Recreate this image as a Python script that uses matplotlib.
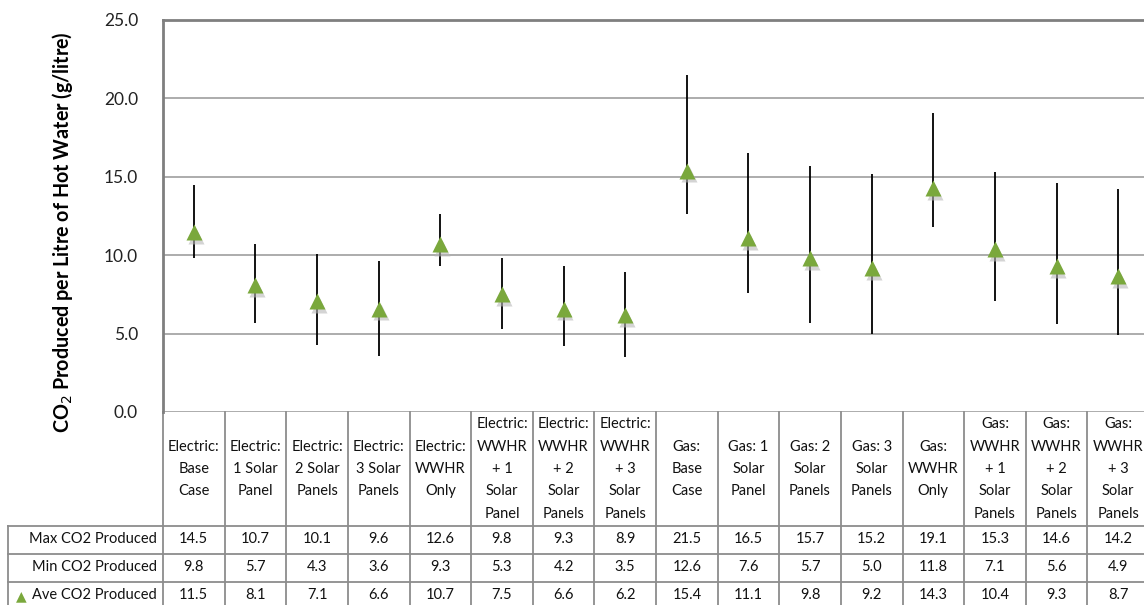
import numpy as np
import matplotlib
matplotlib.use('Agg')
from matplotlib import pyplot as plt
import matplotlib.transforms as mtransforms

plt.rcParams['font.family'] = ['Lato', 'DejaVu Sans']

categories = ['Electric:\nBase\nCase', 'Electric:\n1 Solar\nPanel', 'Electric:\n2 Solar\nPanels',
              'Electric:\n3 Solar\nPanels', 'Electric:\nWWHR\nOnly', 'Electric:\nWWHR\n+ 1\nSolar\nPanel',
              'Electric:\nWWHR\n+ 2\nSolar\nPanels', 'Electric:\nWWHR\n+ 3\nSolar\nPanels',
              'Gas:\nBase\nCase', 'Gas: 1\nSolar\nPanel', 'Gas: 2\nSolar\nPanels', 'Gas: 3\nSolar\nPanels',
              'Gas:\nWWHR\nOnly', 'Gas:\nWWHR\n+ 1\nSolar\nPanels', 'Gas:\nWWHR\n+ 2\nSolar\nPanels',
              'Gas:\nWWHR\n+ 3\nSolar\nPanels']
max_co2 = [14.5, 10.7, 10.1, 9.6, 12.6, 9.8, 9.3, 8.9, 21.5, 16.5, 15.7, 15.2, 19.1, 15.3, 14.6, 14.2]
min_co2 = [9.8, 5.7, 4.3, 3.6, 9.3, 5.3, 4.2, 3.5, 12.6, 7.6, 5.7, 5.0, 11.8, 7.1, 5.6, 4.9]
ave_co2 = [11.5, 8.1, 7.1, 6.6, 10.7, 7.5, 6.6, 6.2, 15.4, 11.1, 9.8, 9.2, 14.3, 10.4, 9.3, 8.7]
row_labels = ['Max CO2 Produced', 'Min CO2 Produced', 'Ave CO2 Produced']
yticks = [0, 5, 10, 15, 20, 25]

W, H = 1144, 605
fig = plt.figure(figsize=(W / 100, H / 100), dpi=100)

def fy(py):
    return 1 - py / H

def fx(px):
    return px / W

ax_left, ax_right, ax_top, ax_bot = 163, 1149, 20, 412
ax = fig.add_axes([fx(ax_left), fy(ax_bot), fx(ax_right - ax_left), (ax_bot - ax_top) / H])

x = np.arange(len(categories))
green = '#7aa83c'
grid_c = '#a6a6a6'
line_c = '#8c8c8c'

ax.vlines(x, min_co2, max_co2, color='black', lw=1.3, zorder=3)
ax.plot(x + 0.03, np.array(ave_co2) - 0.25, '^', color='#b8b8b8', ms=12, mec='none', alpha=0.6, zorder=3)
ax.plot(x, ave_co2, '^', color=green, ms=12, mec='none', zorder=4)

ax.set_xlim(-0.5, len(categories) - 0.5)
ax.set_ylim(0, 25)
ax.set_yticks(yticks)
ax.set_yticklabels(['%.1f' % v for v in yticks], fontsize=12.5, color='#222222')
ax.set_xticks([])
ax.tick_params(axis='y', length=0, pad=18)
ax.yaxis.grid(True, color=grid_c, lw=1.3)
ax.set_axisbelow(True)
for s in ['right', 'bottom']:
    ax.spines[s].set_visible(False)
ax.spines['left'].set_color('#7f7f7f')
ax.spines['left'].set_linewidth(2)
ax.spines['top'].set_color('#7f7f7f')
ax.spines['top'].set_linewidth(2)

fig.text(fx(63), fy(232), 'CO$_2$ Produced per Litre of Hot Water (g/litre)', rotation=90,
         ha='center', va='center', fontsize=14.2, fontweight='bold')

# data table below the plot
trans = mtransforms.blended_transform_factory(ax.transData, fig.transFigure)
head_bot = 526
row_edges = [526, 554, 582, 610]
edges = np.arange(len(categories) + 1) - 0.5
for e in edges:
    ax.add_line(plt.Line2D([e, e], [fy(ax_bot), fy(row_edges[-1])], transform=trans,
                           color=line_c, lw=1.3, clip_on=False))
for ry in row_edges:
    fig.add_artist(plt.Line2D([fx(8), 1.1], [fy(ry), fy(ry)], color=line_c, lw=1.3))
fig.add_artist(plt.Line2D([fx(8), fx(8)], [fy(row_edges[0]), fy(row_edges[-1])], color=line_c, lw=1.3))

for i, lab in enumerate(categories):
    ax.text(x[i], fy((ax_bot + head_bot) / 2), lab, transform=trans, ha='center', va='center',
            fontsize=10.5, linespacing=1.75, color='#111111', clip_on=False)

table_rows = [max_co2, min_co2, ave_co2]
for r, vals in enumerate(table_rows):
    yc = fy((row_edges[r] + row_edges[r + 1]) / 2 - 1)
    fig.text(fx(157), yc, row_labels[r], ha='right', va='center', fontsize=10.5, color='#111111')
    for i, v in enumerate(vals):
        ax.text(x[i], yc, '%.1f' % v, transform=trans, ha='center', va='center',
                fontsize=10.5, color='#111111', clip_on=False)
fig.text(fx(21), fy(596), '\u25b2', ha='center', va='center', fontsize=10, color=green,
         family=['DejaVu Sans'])

plt.savefig('out.png', dpi=100)
